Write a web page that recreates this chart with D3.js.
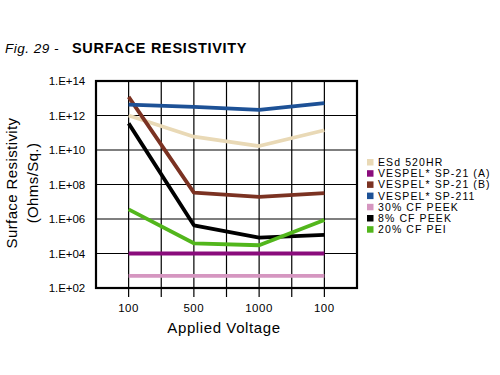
<!DOCTYPE html>
<html>
<head>
<meta charset="utf-8">
<script src="https://cdn.jsdelivr.net/npm/d3@7"></script>
<style>
  body { margin: 0; background: #fff; }
  svg { font-family: "Liberation Sans", Arial, Helvetica, sans-serif; }
</style>
</head>
<body>
<div id="chart"></div>
<script>
// categories along the x axis (last "100" is a return sweep)
var voltages = ["100", "500", "1000", "100"];
var yTicks = [1e2, 1e4, 1e6, 1e8, 1e10, 1e12, 1e14];

var seriesNames = [
  "ESd 520HR",
  "VESPEL* SP-21 (A)",
  "VESPEL* SP-21 (B)",
  "VESPEL* SP-211",
  "30% CF PEEK",
  "8% CF PEEK",
  "20% CF PEI"
];
var seriesColors = ["#e9d9b6", "#8a0c7c", "#7b3222", "#1d5196", "#d596c0", "#000000", "#52b61c"];

var esd520hr = [1.0e12, 5.9e10, 1.7e10, 1.4e11];
var sp21a = [1e4, 1e4, 1e4, 1e4];
var sp21b = [1.2e13, 3.4e7, 1.9e7, 3.2e7];
var sp211 = [4.3e12, 3.2e12, 2.1e12, 5.2e12];
var peek30 = [5.1e2, 5.1e2, 5.1e2, 5.1e2];
var peek8 = [3.5e11, 4.3e5, 8.3e4, 1.2e5];
var pei20 = [3.6e6, 3.9e4, 3.0e4, 8.7e5];

var seriesValues = [esd520hr, sp21a, sp21b, sp211, peek30, peek8, pei20];

var W = 500, H = 375;
var plot = { left: 96, right: 357, top: 81, bottom: 288 };

var svg = d3.select("#chart").append("svg")
  .attr("width", W)
  .attr("height", H);

// title
var title = svg.append("text")
  .attr("x", 5)
  .attr("y", 53);
title.append("tspan")
  .style("font-style", "italic")
  .style("font-size", "13.5px")
  .style("letter-spacing", "0.5px")
  .text("Fig. 29 - ");
title.append("tspan")
  .attr("x", 72)
  .style("font-weight", "bold")
  .style("font-size", "14.5px")
  .style("letter-spacing", "0.7px")
  .text("SURFACE RESISTIVITY");

var x = d3.scaleBand()
  .domain(d3.range(voltages.length))
  .range([plot.left, plot.right]);
var xc = function (i) { return x(i) + x.bandwidth() / 2; };

var y = d3.scaleLog()
  .domain([1e2, 1e14])
  .range([plot.bottom, plot.top]);

// vertical grid: band centres and inner band boundaries
var vGrid = [];
d3.range(voltages.length).forEach(function (i) {
  vGrid.push(xc(i));
  if (i > 0) vGrid.push(x(i));
});

var grid = svg.append("g").attr("stroke", "#000").attr("stroke-width", 1.2);
grid.selectAll("line.h")
  .data(yTicks)
  .enter().append("line")
  .attr("x1", plot.left).attr("x2", plot.right)
  .attr("y1", function (d) { return y(d); })
  .attr("y2", function (d) { return y(d); });
grid.selectAll("line.v")
  .data(vGrid)
  .enter().append("line")
  .attr("x1", function (d) { return d; })
  .attr("x2", function (d) { return d; })
  .attr("y1", plot.top).attr("y2", plot.bottom + 9);

// y tick labels
function fmt(d) {
  var e = Math.round(Math.log10(d));
  return "1.E+" + (e < 10 ? "0" + e : e);
}
svg.append("g").selectAll("text")
  .data(yTicks)
  .enter().append("text")
  .attr("x", 85)
  .attr("y", function (d) { return y(d) + 4; })
  .attr("text-anchor", "end")
  .style("font-size", "11.5px")
  .style("letter-spacing", "-0.1px")
  .text(fmt);

// x tick labels
svg.append("g").selectAll("text")
  .data(voltages)
  .enter().append("text")
  .attr("x", function (d, i) { return xc(i); })
  .attr("y", 312)
  .attr("text-anchor", "middle")
  .style("font-size", "11.5px")
  .style("letter-spacing", "0.6px")
  .text(function (d) { return d; });

// axis titles
svg.append("text")
  .attr("x", 224).attr("y", 333)
  .attr("text-anchor", "middle")
  .style("font-size", "15px")
  .style("letter-spacing", "0.6px")
  .text("Applied Voltage");

var yt = svg.append("text")
  .attr("transform", "translate(0,183) rotate(-90)")
  .attr("text-anchor", "middle")
  .style("font-size", "15px")
  .style("letter-spacing", "0.4px");
yt.append("tspan").attr("x", 0).attr("y", 17).text("Surface Resistivity");
yt.append("tspan").attr("x", 0).attr("y", 38).text("(Ohms/Sq.)");

// series lines
var line = d3.line()
  .x(function (d, i) { return xc(i); })
  .y(function (d) { return y(d); });

svg.append("g").selectAll("path")
  .data(seriesValues)
  .enter().append("path")
  .attr("d", line)
  .attr("fill", "none")
  .attr("stroke", function (d, i) { return seriesColors[i]; })
  .attr("stroke-width", 3.8)
  .attr("stroke-linejoin", "round");

// plot frame
svg.append("rect")
  .attr("x", plot.left).attr("y", plot.top)
  .attr("width", plot.right - plot.left)
  .attr("height", plot.bottom - plot.top)
  .attr("fill", "none")
  .attr("stroke", "#000")
  .attr("stroke-width", 2.2);

// legend
var legend = svg.append("g").selectAll("g")
  .data(seriesNames)
  .enter().append("g")
  .attr("transform", function (d, i) { return "translate(367," + (162 + i * 11.2) + ")"; });
legend.append("rect")
  .attr("x", 0).attr("y", -3)
  .attr("width", 6.5).attr("height", 6.5)
  .attr("fill", function (d, i) { return seriesColors[i]; });
legend.append("text")
  .attr("x", 11).attr("y", 4)
  .style("font-size", "10.5px")
  .style("letter-spacing", "1.1px")
  .text(function (d) { return d; });
</script>
</body>
</html>
